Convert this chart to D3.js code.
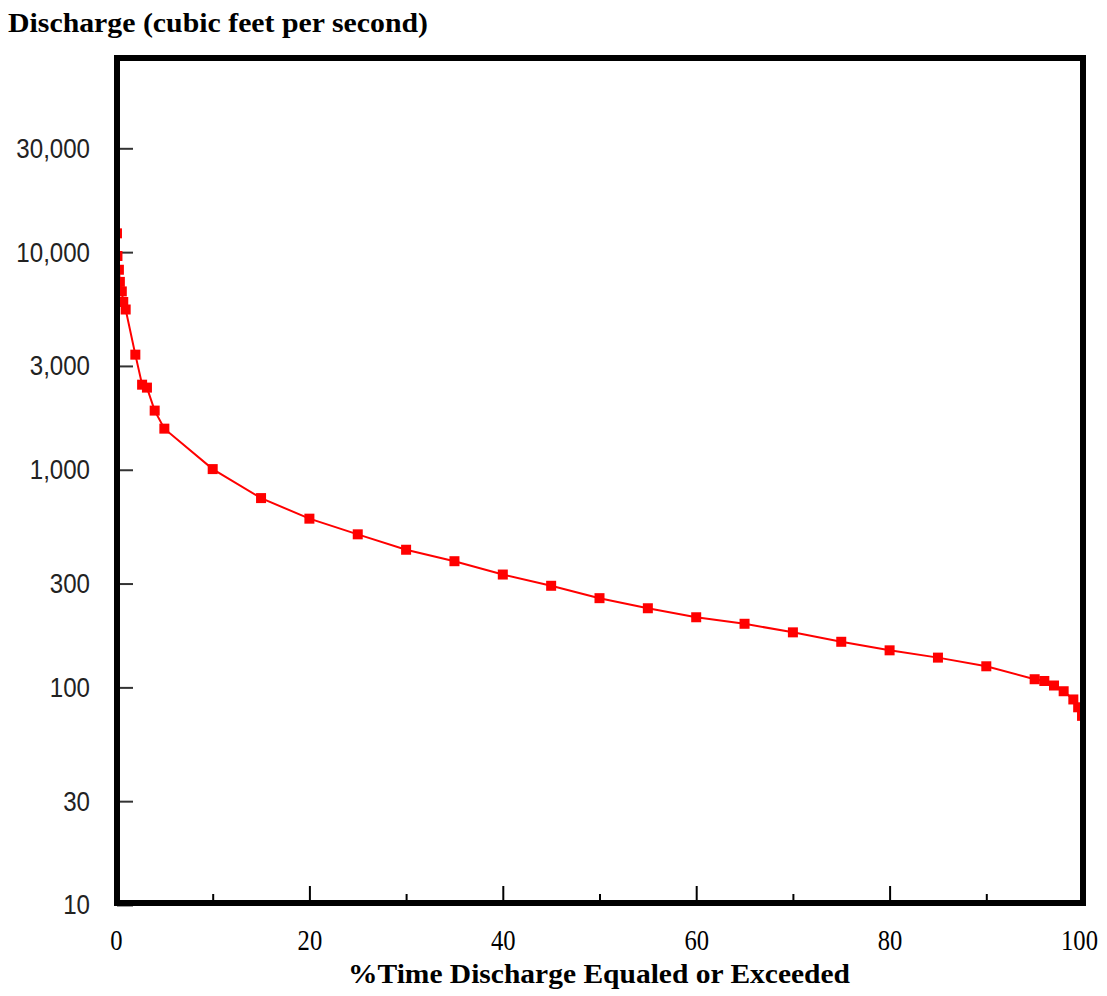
<!DOCTYPE html>
<html>
<head>
<meta charset="utf-8">
<script src="https://cdn.jsdelivr.net/npm/d3@7"></script>
<style>
  body { margin: 0; background: #fff; }
  .serif { font-family: "Liberation Serif", "Times New Roman", serif; }
  .sans { font-family: "Liberation Sans", Arial, sans-serif; }
</style>
</head>
<body>
<div id="chart"></div>
<script>
// % of time flow equaled or exceeded
var pctTime = [0.1, 0.15, 0.3, 0.4, 0.6, 0.75, 1, 2, 2.7, 3.2, 4, 5,
    10, 15, 20, 25, 30, 35, 40, 45, 50, 55, 60, 65, 70, 75, 80, 85, 90,
    95, 96, 97, 98, 99, 99.5, 99.9];
// discharge, cfs
var discharge = [12200, 9600, 8300, 7300, 6600, 5900, 5450, 3380, 2460, 2385, 1870, 1545,
    1007, 741, 596, 505, 429, 380, 330, 293, 257, 231, 210, 196, 179, 162, 148, 137, 125,
    109, 107, 102, 96, 88, 81, 74];

var yTicks = [10, 30, 100, 300, 1000, 3000, 10000, 30000];
var xMajorTicks = [0, 20, 40, 60, 80, 100];
var xMinorTicks = [10, 30, 50, 70, 90];

var yTitle = "Discharge (cubic feet per second)";
var xTitle = "%Time Discharge Equaled or Exceeded";

var margin = {top: 58, right: 24, bottom: 93, left: 117},
    width = 1107 - margin.left - margin.right,
    height = 996 - margin.top - margin.bottom;

var svg = d3.select("#chart").append("svg")
    .attr("width", 1107)
    .attr("height", 996);

var g = svg.append("g")
    .attr("transform", "translate(" + margin.left + "," + margin.top + ")");

var x = d3.scaleLinear()
    .domain([0, 100])
    .range([-1, width]);

var y = d3.scaleLog()
    .domain([10, 78000])
    .range([height + 2, 0]);

var data = pctTime.map(function (p, i) { return {x: p, y: discharge[i]}; });

// y axis, ticks pointing inside
var yAxis = g.append("g")
    .attr("class", "sans")
    .call(d3.axisLeft(y)
        .tickValues(yTicks)
        .tickFormat(d3.format(","))
        .tickSizeInner(-16)
        .tickSizeOuter(0)
        .tickPadding(27));
yAxis.select(".domain").remove();
yAxis.selectAll("line").attr("stroke", "#333").attr("stroke-width", 2);
yAxis.selectAll("text")
    .attr("fill", "#222")
    .style("font-size", "28px")
    .each(function () {
        var w = this.getComputedTextLength();
        d3.select(this).attr("textLength", w * 0.86).attr("lengthAdjust", "spacingAndGlyphs");
    });

// x axis
var xAxis = g.append("g")
    .attr("class", "serif")
    .attr("transform", "translate(0," + height + ")")
    .call(d3.axisBottom(x)
        .tickValues(xMajorTicks)
        .tickFormat(d3.format("d"))
        .tickSizeInner(-17)
        .tickSizeOuter(0)
        .tickPadding(26));
xAxis.select(".domain").remove();
xAxis.selectAll("line").attr("stroke", "#000").attr("stroke-width", 2);
xAxis.selectAll("text")
    .attr("fill", "#000")
    .style("font-size", "30px")
    .each(function (d) {
        var w = this.getComputedTextLength();
        d3.select(this).attr("textLength", w * 0.82).attr("lengthAdjust", "spacingAndGlyphs");
        if (d === 100) d3.select(this).attr("dx", -4);
    });

var xMinor = g.append("g")
    .attr("transform", "translate(0," + height + ")")
    .call(d3.axisBottom(x)
        .tickValues(xMinorTicks)
        .tickFormat("")
        .tickSizeInner(-9)
        .tickSizeOuter(0));
xMinor.select(".domain").remove();
xMinor.selectAll("line").attr("stroke", "#000").attr("stroke-width", 2);

// keep the curve inside the box
g.append("clipPath")
    .attr("id", "plotclip")
    .append("rect")
    .attr("width", width)
    .attr("height", height);

var plot = g.append("g").attr("clip-path", "url(#plotclip)");

var line = d3.line()
    .x(function (d) { return x(d.x); })
    .y(function (d) { return y(d.y); });

plot.append("path")
    .datum(data)
    .attr("d", line)
    .attr("fill", "none")
    .attr("stroke", "#ff0000")
    .attr("stroke-width", 2);

var sz = 10;
plot.append("g")
    .selectAll("rect")
    .data(data)
    .enter()
    .append("rect")
    .attr("x", function (d) { return x(d.x) - sz / 2; })
    .attr("y", function (d) { return y(d.y) - sz / 2; })
    .attr("width", sz)
    .attr("height", sz)
    .attr("fill", "#ff0000");

// frame drawn last so it sits over the markers
g.append("rect")
    .attr("x", 0)
    .attr("y", 0)
    .attr("width", width)
    .attr("height", height)
    .attr("fill", "none")
    .attr("stroke", "#000")
    .attr("stroke-width", 6);

// titles
svg.append("text")
    .attr("class", "serif")
    .attr("x", 8)
    .attr("y", 32)
    .attr("font-weight", "bold")
    .style("font-size", "28px")
    .attr("textLength", 420)
    .attr("lengthAdjust", "spacingAndGlyphs")
    .text(yTitle);

svg.append("text")
    .attr("class", "serif")
    .attr("x", 348)
    .attr("y", 983)
    .attr("font-weight", "bold")
    .style("font-size", "28px")
    .attr("textLength", 502)
    .attr("lengthAdjust", "spacingAndGlyphs")
    .text(xTitle);
</script>
</body>
</html>
